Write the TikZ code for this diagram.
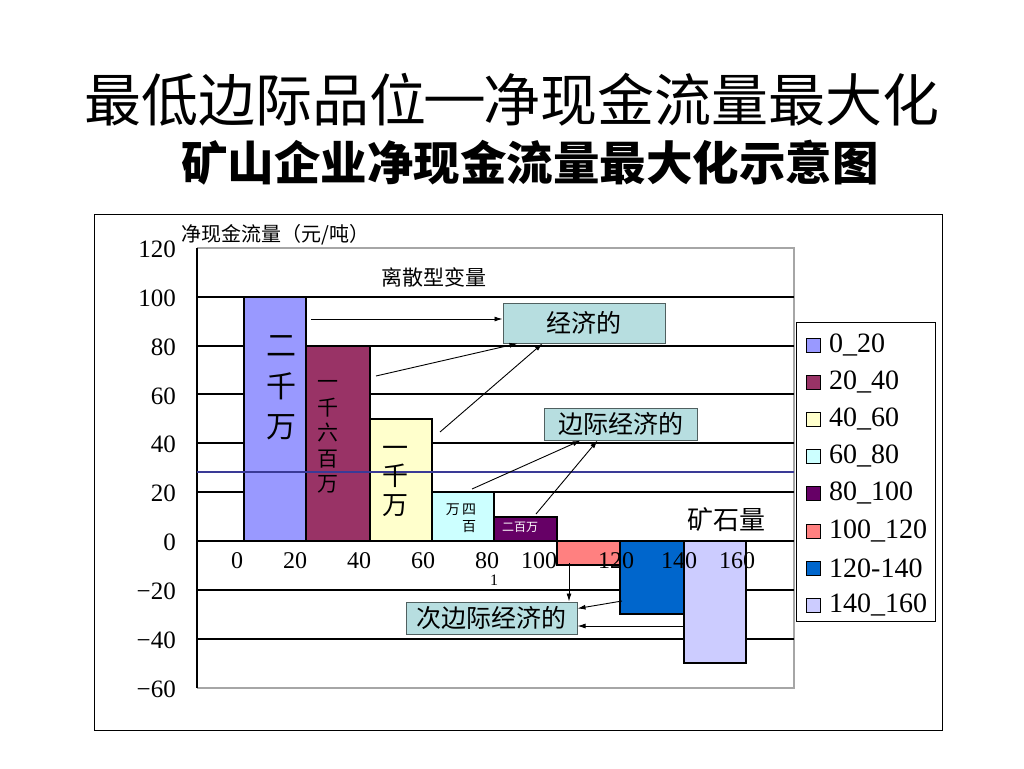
\documentclass[tikz,border=0pt]{standalone}
\usepackage{fontspec}
\setmainfont{Liberation Serif}
\newfontfamily\cjk{Noto Sans CJK SC}
\usetikzlibrary{arrows.meta,calc}
\definecolor{cA}{HTML}{9999FF}
\definecolor{cB}{HTML}{993366}
\definecolor{cC}{HTML}{FFFFCC}
\definecolor{cD}{HTML}{CCFFFF}
\definecolor{cE}{HTML}{660066}
\definecolor{cF}{HTML}{FF8080}
\definecolor{cG}{HTML}{0066CC}
\definecolor{cH}{HTML}{CCCCFF}
\definecolor{boxfill}{HTML}{B7DEE0}
\definecolor{boxline}{HTML}{506060}
\definecolor{avgline}{HTML}{3A3A96}
\begin{document}
\begin{tikzpicture}[x=1pt,y=-1pt,
  bar/.style={draw=black,line width=1.1pt,anchor=north west,inner sep=0pt,outer sep=0pt},
  gridln/.style={draw=black,line width=1.1pt},
  plotborder/.style={draw=gray!70,line width=1.1pt},
  lbl/.style={draw=boxline,line width=1pt,fill=boxfill,inner sep=0pt,font=\cjk\fontsize{25}{28}\selectfont},
  arr/.style={-{Latex[length=8pt,width=5pt]},line width=0.9pt},
  ynum/.style={anchor=east,font=\fontsize{25}{28}\selectfont,inner sep=0pt},
  xnum/.style={font=\fontsize{24}{26}\selectfont,inner sep=0pt},
  legsq/.style={draw=black,line width=1pt,minimum size=14pt,inner sep=0pt},
  legtxt/.style={anchor=west,font=\fontsize{28}{30}\selectfont,inner sep=0pt},
  vtext/.style={align=center,inner sep=0pt}
]
\useasboundingbox[fill=white] (0,0) rectangle (1024,768);

% titles
\node (title) at (512,100) {\cjk\fontsize{57}{60}\selectfont 最低边际品位\raisebox{9pt}{\normalfont\bfseries —}净现金流量最大化};
\node (subtitle) at (530,163) {\cjk\bfseries\fontsize{46.5}{50}\selectfont 矿山企业净现金流量最大化示意图};

% outer frame
\node[draw=black,line width=1.2pt,minimum width=848pt,minimum height=516pt,anchor=north west,inner sep=0pt] (frame) at (94,214) {};

% plot area border
\draw[plotborder] (197,248) -- (794,248) -- (794,688) -- (197,688);

% gridlines
\foreach \yy in {297,346,394,443,492,541,590,639}
  \draw[gridln] (197,\yy) -- (794,\yy);
\draw[black,line width=1.2pt] (197,248) -- (197,688);

% y labels
\foreach \yy/\t in {249/120,298/100,347/80,396/60,444/40,493/20,542/0,591/−20,640/−40,689/−60}
  \node[ynum] at (176,\yy) {\t};

% axis titles
\node[anchor=west,inner sep=0pt,font=\cjk\fontsize{20}{22}\selectfont] (ytitle) at (181,235) {净现金流量（元/吨）};
\node[inner sep=0pt,font=\cjk\fontsize{21}{24}\selectfont] (disc) at (434,277) {离散型变量};

% bars
\node[bar,fill=cA,minimum width=62pt,minimum height=244pt] (b1) at (244,297) {};
\node[bar,fill=cB,minimum width=64pt,minimum height=195pt] (b2) at (306,346) {};
\node[bar,fill=cC,minimum width=62pt,minimum height=122pt] (b3) at (370,419) {};
\node[bar,fill=cD,minimum width=62pt,minimum height=49pt] (b4) at (432,492) {};
\node[bar,fill=cE,minimum width=63pt,minimum height=24pt] (b5) at (494,517) {};
\node[bar,fill=cF,minimum width=63pt,minimum height=24pt] (b6) at (557,541) {};
\node[bar,fill=cG,minimum width=64pt,minimum height=73pt] (b7) at (620,541) {};
\node[bar,fill=cH,minimum width=62pt,minimum height=122pt] (b8) at (684,541) {};

% average line
\draw[avgline,line width=1.5pt] (197,472) -- (794,472);

% bar texts
\node[vtext,font=\cjk\fontsize{30}{40.5}\selectfont] (t1) at (281,388) {二\\千\\万};
\node[vtext,font=\cjk\fontsize{21}{25.5}\selectfont] (t2) at (328,437) {一\\千\\六\\百\\万};
\node[vtext,font=\cjk\fontsize{26}{28.5}\selectfont] (t3) at (395,481) {一\\千\\万};
\node[align=right,inner sep=0pt,font=\cjk\fontsize{14}{17}\selectfont] (t4) at (461,518) {万\,四\\百};
\node[inner sep=0pt,text=white,font=\cjk\fontsize{12}{14}\selectfont] (t5) at (520,527) {二百万};

% x labels
\foreach \xx/\t in {237/0,295/20,359/40,423/60,487/80,539/100,616/120,679/140,737/160}
  \node[xnum] at (\xx,561) {\t};
\node[inner sep=0pt,font=\fontsize{16}{18}\selectfont] (one) at (494,580) {1};
\node[inner sep=0pt,font=\cjk\fontsize{26}{28}\selectfont] (ore) at (726,520) {矿石量};

% label boxes
\node[lbl,minimum width=162pt,minimum height=40pt] (jj) at (584,323) {经济的};
\node[lbl,minimum width=153pt,minimum height=32pt] (bj) at (620.5,424) {边际经济的};
\node[lbl,minimum width=171pt,minimum height=32pt] (cb) at (491.5,618) {次边际经济的};

% arrows
\coordinate (s1) at (311,319);
\coordinate (s2) at (376,376);
\coordinate (s3) at (440,432);
\coordinate (s4) at (472,489);
\coordinate (s5) at (536,514);
\coordinate (s6) at (569,563);
\coordinate (s7) at (622,601);
\coordinate (s8) at (684,626);
\draw[arr] (s1) -- (s1 -| jj.west);
\draw[arr] (s2) -- ($(jj.south west)+(15,0)$);
\draw[arr] (s3) -- ($(jj.south west)+(40,0)$);
\draw[arr] (s4) -- ($(bj.south west)+(37,0)$);
\draw[arr] (s5) -- ($(bj.south west)+(54,0)$);
\draw[arr] (s6) -- (s6 |- cb.north);
\draw[arr] (s7) -- ($(cb.north east)+(0,7)$);
\draw[arr] (s8) -- (s8 -| cb.east);

% legend
\node[draw=black,line width=1.1pt,fill=white,minimum width=139pt,minimum height=299pt,anchor=north west,inner sep=0pt] (leg) at (796,322) {};
\foreach \i/\yy/\c/\t in {1/345/cA/0\_20,2/382/cB/20\_40,3/419/cC/40\_60,4/456/cD/60\_80,5/493/cE/80\_100,6/531/cF/100\_120,7/568/cG/120-140,8/605/cH/140\_160}{
  \node[legsq,fill=\c] (sq\i) at (813,\yy) {};
  \node[legtxt] (lt\i) at (829,\yy) {\t};
}
\end{tikzpicture}
\end{document}
